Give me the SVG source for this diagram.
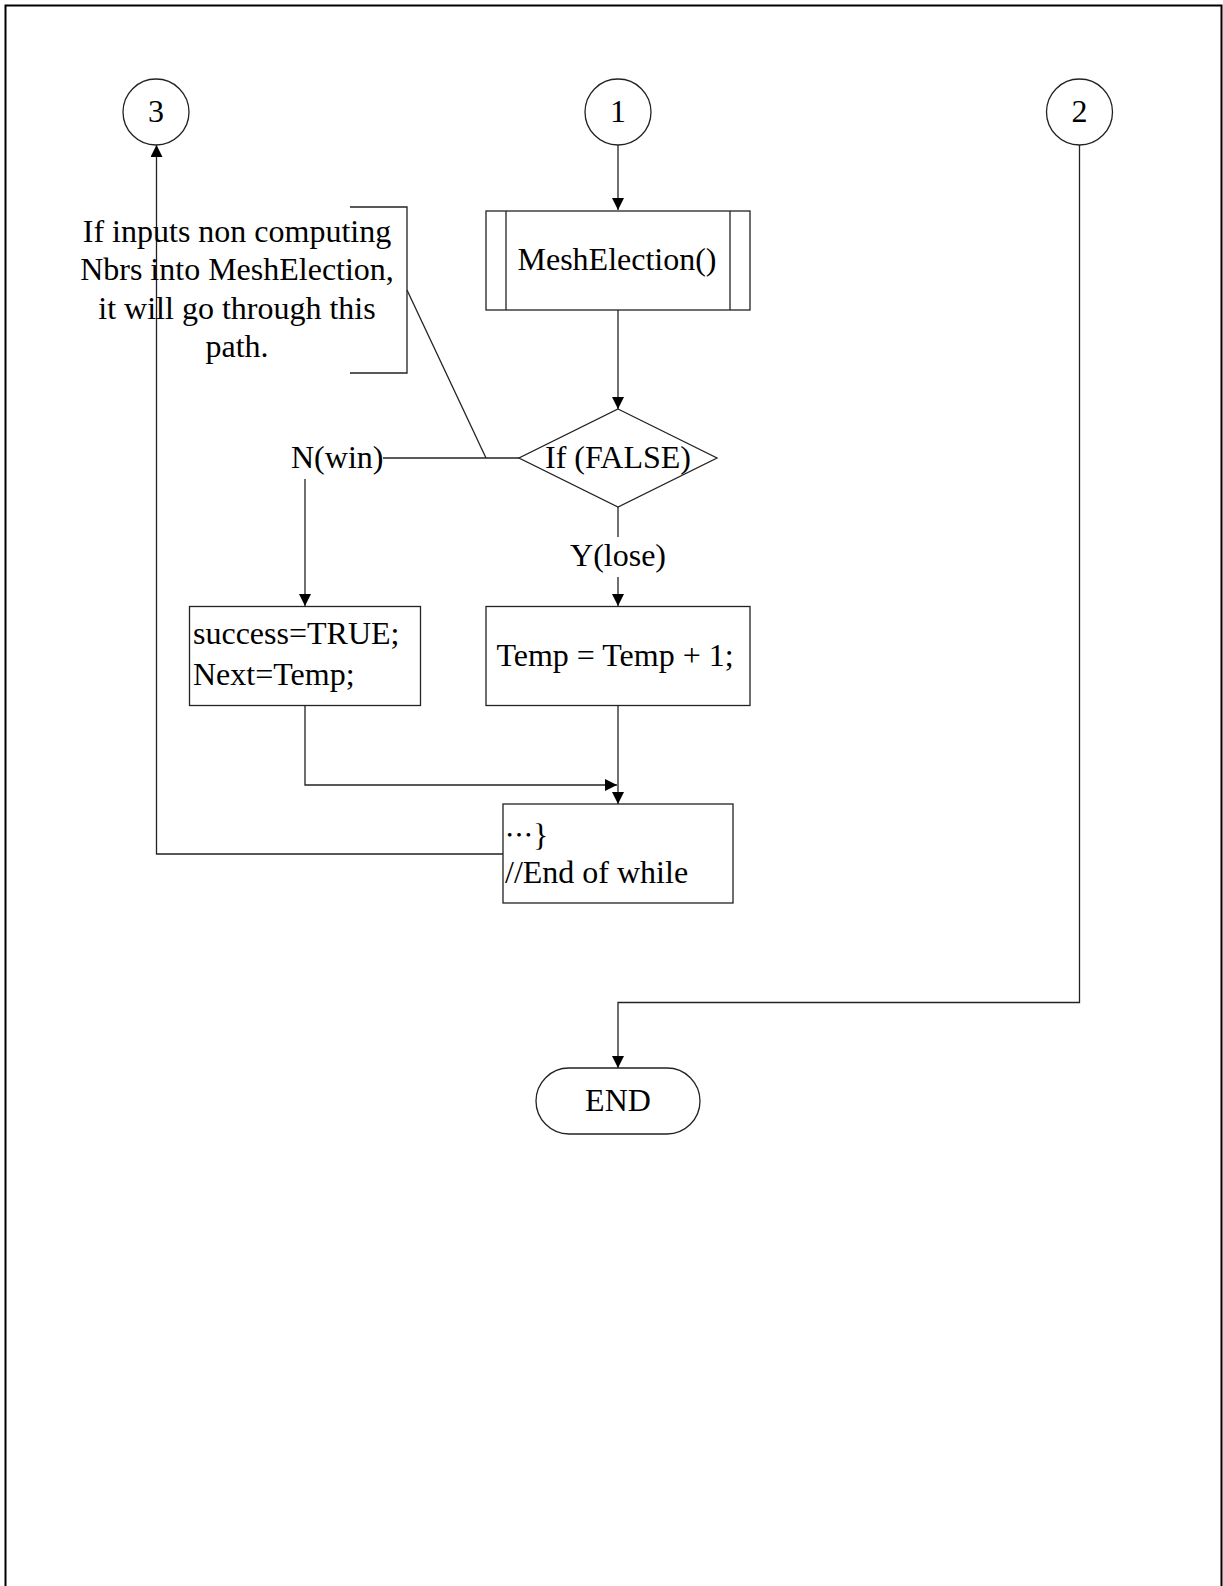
<svg xmlns="http://www.w3.org/2000/svg" width="1223" height="1586" viewBox="0 0 1223 1586">
  <style>
    .shape { fill: #fff; stroke: #222; stroke-width: 1.3; }
    .line { fill: none; stroke: #222; stroke-width: 1.3; }
    .arrow { fill: none; stroke: #222; stroke-width: 1.3; marker-end: url(#head); }
    text { font-family: "Liberation Serif", "Times New Roman", serif; font-size: 32px; fill: #000; }
    .mid { text-anchor: middle; }
  </style>
  <defs>
    <marker id="head" viewBox="0 0 12 12" refX="12" refY="6" markerWidth="12" markerHeight="12" markerUnits="userSpaceOnUse" orient="auto">
      <path d="M0,0 L12,6 L0,12 Z" fill="#000"/>
    </marker>
  </defs>

  <rect x="5.5" y="5.5" width="1216" height="1600" fill="#fff" stroke="#000" stroke-width="2"/>

  <!-- connectors -->
  <g id="connectors">
    <line class="arrow" x1="618" y1="145" x2="618" y2="210"/>
    <line class="arrow" x1="618" y1="310" x2="618" y2="409"/>
    <line class="line" x1="383" y1="458" x2="519" y2="458"/>
    <line class="arrow" x1="305" y1="479" x2="305" y2="606"/>
    <line class="line" x1="618" y1="507" x2="618" y2="537"/>
    <line class="arrow" x1="618" y1="577" x2="618" y2="606"/>
    <line class="arrow" x1="618" y1="706" x2="618" y2="804"/>
    <polyline class="arrow" points="305,706 305,785 617,785"/>
    <polyline class="arrow" points="503,854 156.5,854 156.5,145"/>
    <polyline class="arrow" points="1079.5,145 1079.5,1002.5 618,1002.5 618,1068"/>
  </g>

  <g id="node-3">
    <circle class="shape" cx="156" cy="112" r="33"/>
    <text class="mid" x="156" y="122">3</text>
  </g>
  <g id="node-1">
    <circle class="shape" cx="618" cy="112" r="33"/>
    <text class="mid" x="618" y="122">1</text>
  </g>
  <g id="node-2">
    <circle class="shape" cx="1079.5" cy="112" r="33"/>
    <text class="mid" x="1079.5" y="122">2</text>
  </g>

  <g id="note">
    <polyline class="line" points="350,207 407,207 407,373 350,373"/>
    <line class="line" x1="407" y1="290" x2="486" y2="458"/>
    <text class="mid" x="237" y="242">If inputs non computing</text>
    <text class="mid" x="237" y="280">Nbrs into MeshElection,</text>
    <text class="mid" x="237" y="319">it will go through this</text>
    <text class="mid" x="237" y="357">path.</text>
  </g>

  <g id="mesh-election">
    <rect class="shape" x="486" y="211" width="264" height="99"/>
    <line class="line" x1="506" y1="211" x2="506" y2="310"/>
    <line class="line" x1="730" y1="211" x2="730" y2="310"/>
    <text class="mid" x="617" y="270">MeshElection()</text>
  </g>

  <g id="decision">
    <polygon class="shape" points="618,409 717,458 618,507 519,458"/>
    <text class="mid" x="618" y="468">If (FALSE)</text>
  </g>

  <g id="label-no">
    <text x="291" y="468">N(win)</text>
  </g>
  <g id="label-yes">
    <text class="mid" x="618" y="566">Y(lose)</text>
  </g>

  <g id="win-block">
    <rect class="shape" x="189.5" y="606.5" width="231" height="99"/>
    <text x="193" y="644">success=TRUE;</text>
    <text x="193" y="685">Next=Temp;</text>
  </g>

  <g id="lose-block">
    <rect class="shape" x="486" y="606.5" width="264" height="99"/>
    <text class="mid" x="615" y="666">Temp = Temp + 1;</text>
  </g>

  <g id="end-while">
    <rect class="shape" x="503" y="804" width="230" height="99"/>
    <text x="505" y="846"><tspan font-family="'Noto Sans CJK SC', sans-serif" font-size="28">…</tspan>}</text>
    <text x="505" y="883">//End of while</text>
  </g>

  <g id="end">
    <rect class="shape" x="536" y="1068" width="164" height="66" rx="33" ry="33"/>
    <text class="mid" x="618" y="1111">END</text>
  </g>
</svg>
